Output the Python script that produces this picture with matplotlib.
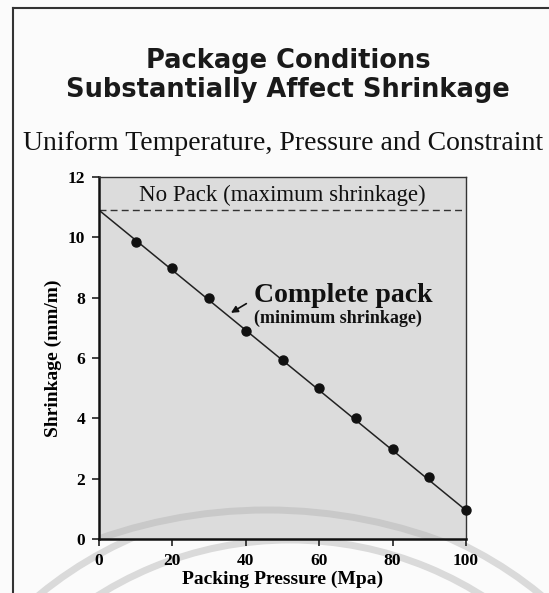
import matplotlib
matplotlib.use('Agg')
import matplotlib.pyplot as plt
from matplotlib.patches import Arc
from matplotlib.transforms import IdentityTransform

# data
pressure = [10, 20, 30, 40, 50, 60, 70, 80, 90, 100]
shrinkage = [9.85, 9.0, 8.0, 6.9, 5.95, 5.0, 4.0, 3.0, 2.05, 0.95]
fit_x = [0, 100]
fit_y = [10.9, 0.95]
no_pack = 10.9
xticks = [0, 20, 40, 60, 80, 100]
yticks = [0, 2, 4, 6, 8, 10, 12]

serif = 'Liberation Serif'

fig = plt.figure(figsize=(5.49, 5.93), dpi=100)
fig.patch.set_facecolor('#fbfbfb')

# outer slide frame (left + top edges)
fig.add_artist(plt.Line2D([13, 13], [0, 585], transform=IdentityTransform(), color='#333333', lw=1.5))
fig.add_artist(plt.Line2D([13, 549], [585, 585], transform=IdentityTransform(), color='#333333', lw=1.5))

# faint watermark rings behind everything
for r in (395, 360):
    fig.add_artist(Arc((290, -307), 2 * r, 2 * r, transform=IdentityTransform(),
                       color='#dadada', lw=5, zorder=-1))

fig.text(0.525, 0.873, 'Package Conditions\nSubstantially Affect Shrinkage',
         ha='center', va='center', fontsize=18.5, fontweight='bold',
         family='DejaVu Sans', color='#1a1a1a', linespacing=1.12)
fig.text(0.515, 0.758, 'Uniform Temperature, Pressure and Constraint',
         ha='center', va='center', fontsize=20, family=serif, color='#111111')

ax = fig.add_axes([99 / 549, 1 - 539 / 593, 367 / 549, 362 / 593])
ax.set_facecolor('#dcdcdc')
ax.add_patch(Arc((267, 593 - 1015), 1010, 1010, transform=IdentityTransform(),
                 color='#c9c9c9', lw=5, zorder=0.5))

ax.axhline(no_pack, color='#333333', lw=1, ls=(0, (5, 3)))
ax.plot(fit_x, fit_y, color='#222222', lw=1.1, zorder=2)
ax.plot(pressure, shrinkage, 'o', color='#111111', ms=6.5, zorder=3, clip_on=False)

ax.text(50, 11.2, 'No Pack (maximum shrinkage)', ha='center', va='baseline',
        fontsize=16.5, family=serif, color='#111111')
ax.text(42.3, 7.87, 'Complete pack', ha='left', va='baseline',
        fontsize=20, fontweight='bold', family=serif, color='#111111')
ax.text(42.3, 7.3, '(minimum shrinkage)', ha='left', va='center',
        fontsize=13, fontweight='bold', family=serif, color='#111111')
ax.annotate('', xy=(35.3, 7.45), xytext=(40.8, 7.85),
            arrowprops=dict(arrowstyle='-|>', color='#111111', lw=1.2, mutation_scale=10))

ax.set_xlim(0, 100)
ax.set_ylim(0, 12)
ax.set_xticks(xticks)
ax.set_yticks(yticks)
ax.tick_params(direction='out', length=5, width=1.2, color='#222222', pad=5)
for lab in ax.get_xticklabels() + ax.get_yticklabels():
    lab.set_family(serif)
    lab.set_fontweight('bold')
    lab.set_fontsize(12.5)
ax.set_xlabel('Packing Pressure (Mpa)', family=serif, fontweight='bold', fontsize=14, labelpad=1)
ax.set_ylabel('Shrinkage (mm/m)', family=serif, fontweight='bold', fontsize=14, labelpad=4)

for side in ('left', 'bottom'):
    ax.spines[side].set_linewidth(1.8)
    ax.spines[side].set_color('#111111')
for side in ('top', 'right'):
    ax.spines[side].set_linewidth(1.0)
    ax.spines[side].set_color('#333333')

fig.savefig('out.png', dpi=100, facecolor=fig.get_facecolor())
